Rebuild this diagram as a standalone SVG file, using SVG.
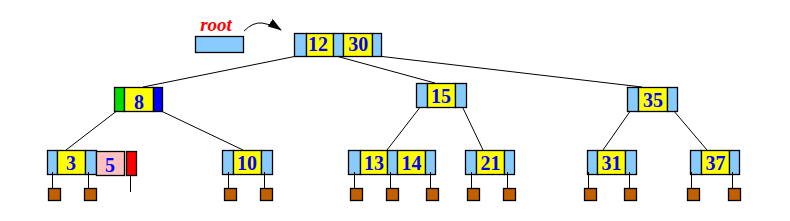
<svg xmlns="http://www.w3.org/2000/svg" width="790" height="221" viewBox="0 0 790 221">
<defs>
<style>
.p{fill:#88ccff;stroke:#000;stroke-width:1.3}
.k{fill:#ffff00;stroke:#000;stroke-width:1.3}
.c{fill:#c06000;stroke:#000;stroke-width:1.3}
.e{stroke:#000;stroke-width:1;fill:none}
.t{font-family:"Liberation Serif",serif;font-weight:bold;font-size:20px;fill:#0000ff;text-anchor:middle}
</style>
<marker id="ah" viewBox="0 0 14 9" refX="13" refY="4.5" markerWidth="14" markerHeight="9" orient="auto" markerUnits="userSpaceOnUse">
<path d="M0,0 L14,4.5 L0,9 Z" fill="#000"/>
</marker>
</defs>
<rect width="790" height="221" fill="#fff"/>
<g id="connectors">
<path class="e" d="M244,31 Q253,22 262,23 Q272,24 281,30" marker-end="url(#ah)"/>
<line class="e" x1="297" y1="56" x2="143" y2="87"/>
<line class="e" x1="336" y1="56" x2="435" y2="83"/>
<line class="e" x1="378" y1="56" x2="642" y2="87"/>
<line class="e" x1="118" y1="110" x2="66" y2="150"/>
<line class="e" x1="159" y1="110" x2="243" y2="150"/>
<line class="e" x1="421" y1="106" x2="387" y2="150"/>
<line class="e" x1="462" y1="106" x2="483" y2="150"/>
<line class="e" x1="631" y1="110" x2="603" y2="150"/>
<line class="e" x1="673" y1="110" x2="707" y2="150"/>
</g>
<g id="rootptr">
<text x="216" y="30.5" font-family="Liberation Serif,serif" font-style="italic" font-weight="bold" font-size="19" fill="#ff0000" text-anchor="middle">root</text>
<rect class="p" x="195.5" y="36.5" width="48" height="16"/>
</g>
<g id="n12_30">
<rect class="p" x="294.5" y="33.5" width="12" height="23"/>
<rect class="k" x="306.5" y="33.5" width="27" height="23"/>
<rect class="p" x="333.5" y="33.5" width="10" height="23"/>
<rect class="k" x="343.5" y="33.5" width="29" height="23"/>
<rect class="p" x="372.5" y="33.5" width="9" height="23"/>
<text class="t" x="318" y="50.5">12</text>
<text class="t" x="358.3" y="50.5">30</text>
</g>
<g id="n8">
<rect x="114.5" y="87.5" width="10" height="24" fill="#00dd00" stroke="#000" stroke-width="1.3"/>
<rect class="k" x="124.5" y="87.5" width="29" height="24"/>
<rect x="153.5" y="87.5" width="9" height="24" fill="#0000ff" stroke="#000" stroke-width="1.3"/>
<text class="t" x="139" y="108.5" font-size="21">8</text>
</g>
<g id="n15">
<rect class="p" x="416.5" y="83.5" width="11" height="24"/>
<rect class="k" x="427.5" y="83.5" width="28" height="24"/>
<rect class="p" x="455.5" y="83.5" width="11" height="24"/>
<text class="t" x="441" y="102.5">15</text>
</g>
<g id="n35">
<rect class="p" x="627.5" y="87.5" width="11" height="24"/>
<rect class="k" x="638.5" y="87.5" width="29" height="24"/>
<rect class="p" x="667.5" y="87.5" width="10" height="24"/>
<text class="t" x="653" y="106.5">35</text>
</g>
<g id="n3">
<rect class="p" x="47.5" y="150.5" width="10" height="24"/>
<rect class="k" x="57.5" y="150.5" width="28" height="24"/>
<rect class="p" x="85.5" y="150.5" width="11" height="24"/>
<text class="t" x="71" y="170">3</text>
<line class="e" x1="52.5" y1="172" x2="52.5" y2="188"/>
<line class="e" x1="88.5" y1="172" x2="88.5" y2="188"/>
<rect class="c" x="48.5" y="188.5" width="12" height="12"/>
<rect class="c" x="84.5" y="188.5" width="12" height="12"/>
</g>
<g id="n5">
<rect x="96.5" y="151.5" width="28" height="24" fill="#ffc0c0" stroke="#000" stroke-width="1.3"/>
<text class="t" x="110" y="172">5</text>
<rect x="126.5" y="151.5" width="10" height="24" fill="#ff0000" stroke="#000" stroke-width="1.3"/>
<line class="e" x1="130.5" y1="176" x2="130.5" y2="192"/>
</g>
<g id="n10">
<rect class="p" x="222.5" y="150.5" width="11" height="24"/>
<rect class="k" x="233.5" y="150.5" width="28" height="24"/>
<rect class="p" x="261.5" y="150.5" width="11" height="24"/>
<text class="t" x="247" y="170">10</text>
<line class="e" x1="228.5" y1="172" x2="228.5" y2="188"/>
<line class="e" x1="264.5" y1="172" x2="264.5" y2="188"/>
<rect class="c" x="224.5" y="188.5" width="12" height="12"/>
<rect class="c" x="260.5" y="188.5" width="12" height="12"/>
</g>
<g id="n13_14">
<rect class="p" x="348.5" y="150.5" width="12" height="24"/>
<rect class="k" x="360.5" y="150.5" width="27" height="24"/>
<rect class="p" x="387.5" y="150.5" width="10" height="24"/>
<rect class="k" x="397.5" y="150.5" width="28" height="24"/>
<rect class="p" x="425.5" y="150.5" width="10" height="24"/>
<text class="t" x="374" y="170">13</text>
<text class="t" x="411.5" y="170">14</text>
<line class="e" x1="354.5" y1="172" x2="354.5" y2="188"/>
<line class="e" x1="390.5" y1="172" x2="390.5" y2="188"/>
<line class="e" x1="430.5" y1="172" x2="430.5" y2="188"/>
<rect class="c" x="350.5" y="188.5" width="12" height="12"/>
<rect class="c" x="386.5" y="188.5" width="12" height="12"/>
<rect class="c" x="426.5" y="188.5" width="12" height="12"/>
</g>
<g id="n21">
<rect class="p" x="465.5" y="150.5" width="11" height="24"/>
<rect class="k" x="476.5" y="150.5" width="28" height="24"/>
<rect class="p" x="504.5" y="150.5" width="10" height="24"/>
<text class="t" x="490.5" y="170">21</text>
<line class="e" x1="471.5" y1="172" x2="471.5" y2="188"/>
<line class="e" x1="507.5" y1="172" x2="507.5" y2="188"/>
<rect class="c" x="467.5" y="188.5" width="12" height="12"/>
<rect class="c" x="503.5" y="188.5" width="12" height="12"/>
</g>
<g id="n31">
<rect class="p" x="587.5" y="150.5" width="10" height="24"/>
<rect class="k" x="597.5" y="150.5" width="28" height="24"/>
<rect class="p" x="625.5" y="150.5" width="11" height="24"/>
<text class="t" x="611.5" y="170">31</text>
<line class="e" x1="588.5" y1="172" x2="588.5" y2="188"/>
<line class="e" x1="629.5" y1="172" x2="629.5" y2="188"/>
<rect class="c" x="584.5" y="188.5" width="12" height="12"/>
<rect class="c" x="624.5" y="188.5" width="12" height="12"/>
</g>
<g id="n37">
<rect class="p" x="690.5" y="150.5" width="11" height="24"/>
<rect class="k" x="701.5" y="150.5" width="28" height="24"/>
<rect class="p" x="729.5" y="150.5" width="10" height="24"/>
<text class="t" x="715.5" y="170">37</text>
<line class="e" x1="691.5" y1="172" x2="691.5" y2="188"/>
<line class="e" x1="732.5" y1="172" x2="732.5" y2="188"/>
<rect class="c" x="687.5" y="188.5" width="12" height="12"/>
<rect class="c" x="728.5" y="188.5" width="12" height="12"/>
</g>
</svg>
